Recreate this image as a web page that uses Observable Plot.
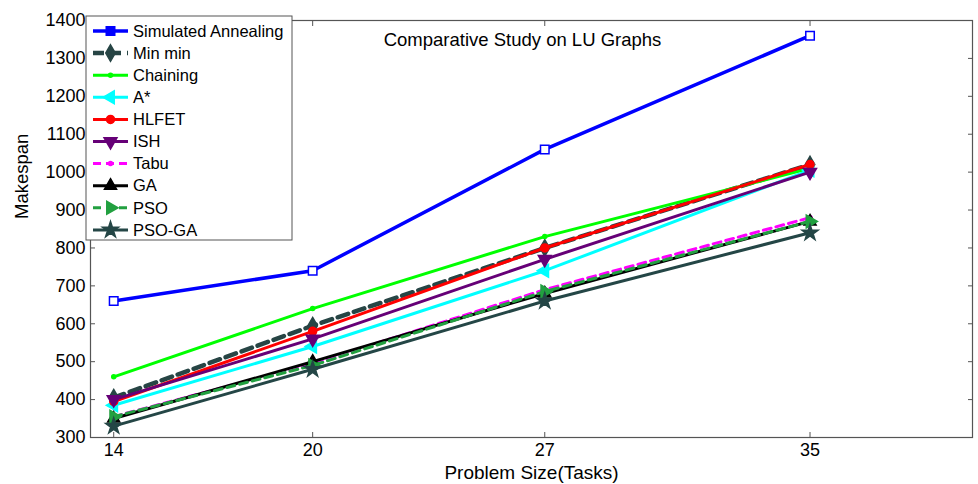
<!DOCTYPE html>
<html>
<head>
<meta charset="utf-8">
<script src="https://cdn.jsdelivr.net/npm/d3@7"></script>
<script src="https://cdn.jsdelivr.net/npm/@observablehq/plot@0.6"></script>
<style>
  html, body { margin: 0; padding: 0; background: white; }
  #chart { width: 978px; height: 484px; }
</style>
</head>
<body>
<div id="chart"></div>
<script>
const sizes = [14, 20, 27, 35];
const algorithms = ["Simulated Annealing", "Min min", "Chaining", "A*", "HLFET", "ISH", "Tabu", "GA", "PSO", "PSO-GA"];
const saValues = [660, 740, 1060, 1360];
const minminValues = [405, 595, 800, 1020];
const chainingValues = [460, 640, 830, 1010];
const aStarValues = [385, 540, 740, 1005];
const hlfetValues = [395, 580, 800, 1020];
const ishValues = [400, 560, 770, 1000];
const tabuValues = [355, 495, 690, 880];
const gaValues = [350, 500, 680, 870];
const psoValues = [355, 490, 685, 870];
const psogaValues = [330, 480, 660, 840];
const yTicks = [300, 400, 500, 600, 700, 800, 900, 1000, 1100, 1200, 1300, 1400];
const xTicks = [14, 20, 27, 35];
const titleText = "Comparative Study on LU Graphs";
const xLabel = "Problem Size(Tasks)";
const yLabel = "Makespan";

const seriesValues = [saValues, minminValues, chainingValues, aStarValues, hlfetValues, ishValues, tabuValues, gaValues, psoValues, psogaValues];

// styles per series
const styles = [
  {color: "#0000ff", width: 3.5, dash: null, symbol: "square", rotate: 0, r: 4.8, fill: "white"},
  {color: "#274545", width: 4.5, dash: "11,6", symbol: "diamond", rotate: 0, r: 5, fill: "#274545"},
  {color: "#00ff00", width: 3, dash: null, symbol: "circle", rotate: 0, r: 2, fill: "#00ff00"},
  {color: "#00ffff", width: 3, dash: null, symbol: "triangle", rotate: -90, r: 4.8, fill: "#00ffff"},
  {color: "#ff0000", width: 3, dash: null, symbol: "circle", rotate: 0, r: 4, fill: "#ff0000"},
  {color: "#660077", width: 3, dash: null, symbol: "triangle", rotate: 180, r: 4.8, fill: "#660077"},
  {color: "#ff00ff", width: 3, dash: "8,5", symbol: "circle", rotate: 0, r: 2, fill: "#ff00ff"},
  {color: "#000000", width: 3, dash: null, symbol: "triangle", rotate: 0, r: 4.5, fill: "#000000"},
  {color: "#22a040", width: 3, dash: "8,5", symbol: "triangle", rotate: 90, r: 4.8, fill: "#22a040"},
  {color: "#244646", width: 3, dash: null, symbol: "star", rotate: 0, r: 5, fill: "#244646"}
];

const marks = [];
algorithms.forEach((name, i) => {
  const s = styles[i];
  const rows = sizes.map((x, j) => ({x, y: seriesValues[i][j], name}));
  marks.push(Plot.line(rows, {x: "x", y: "y", stroke: s.color, strokeWidth: s.width, strokeDasharray: s.dash, strokeLinejoin: "miter"}));
  marks.push(Plot.dot(rows, {x: "x", y: "y", symbol: s.symbol, r: s.r, rotate: s.rotate, fill: s.fill, stroke: s.color, strokeWidth: 1.5}));
});

const chart = Plot.plot({
  width: 978,
  height: 484,
  marginLeft: 90,
  marginRight: 6,
  marginTop: 20,
  marginBottom: 47,
  style: {fontFamily: "'Liberation Sans', Arial, sans-serif", fontSize: "18px", background: "white", color: "black", overflow: "visible"},
  x: {type: "linear", domain: [13.3, 39.9]},
  y: {type: "linear", domain: [300, 1400]},
  marks: [
    Plot.frame({stroke: "#555", strokeWidth: 1.2}),
    Plot.axisX({ticks: xTicks, tickFormat: d => String(d), tickSize: -5, tickPadding: 11, stroke: "#555", fontSize: 18, label: null}),
    Plot.axisX({anchor: "top", ticks: xTicks, tickFormat: () => "", tickSize: -5, stroke: "#555", label: null}),
    Plot.axisY({ticks: yTicks, tickFormat: d => String(d), tickSize: -5, tickPadding: 10, stroke: "#555", fontSize: 18, label: null}),
    Plot.axisY({anchor: "right", ticks: yTicks, tickFormat: () => "", tickSize: -5, stroke: "#555", label: null}),
    ...marks,
    Plot.text([titleText], {frameAnchor: "top", dx: -9, dy: 12, text: d => d, fontSize: 18.5, fill: "black"}),
    Plot.text([xLabel], {frameAnchor: "bottom", dy: 41, text: d => d, fontSize: 19, fill: "black"}),
    Plot.text([yLabel], {frameAnchor: "left", dx: -68, dy: -10, rotate: -90, text: d => d, fontSize: 18.5, fill: "black"})
  ]
});

document.getElementById("chart").appendChild(chart);

// Legend drawn inside the plot's SVG
const svg = d3.select(chart);
const legend = svg.append("g").attr("transform", "translate(86,16)");
legend.append("rect").attr("x", 0).attr("y", 0).attr("width", 206).attr("height", 224)
  .attr("fill", "white").attr("stroke", "#555").attr("stroke-width", 1);
const symMap = {square: d3.symbolSquare, diamond: d3.symbolDiamond, circle: d3.symbolCircle, triangle: d3.symbolTriangle, star: d3.symbolStar};
algorithms.forEach((name, i) => {
  const s = styles[i];
  const cy = 15 + i * 22.1;
  const g = legend.append("g").attr("transform", `translate(0,${cy})`);
  g.append("line").attr("x1", 7).attr("x2", 42).attr("y1", 0).attr("y2", 0)
    .attr("stroke", s.color).attr("stroke-width", s.width).attr("stroke-dasharray", s.dash);
  g.append("path").attr("d", d3.symbol(symMap[s.symbol], Math.PI * s.r * s.r)())
    .attr("transform", `translate(24.5,0) rotate(${s.rotate})`)
    .attr("fill", i === 0 ? s.color : s.fill).attr("stroke", s.color).attr("stroke-width", 1.5);
  g.append("text").attr("x", 47).attr("y", 0).attr("dy", "0.35em")
    .attr("text-anchor", "start")
    .attr("font-size", 16.5).attr("fill", "black").text(name);
});
</script>
</body>
</html>
